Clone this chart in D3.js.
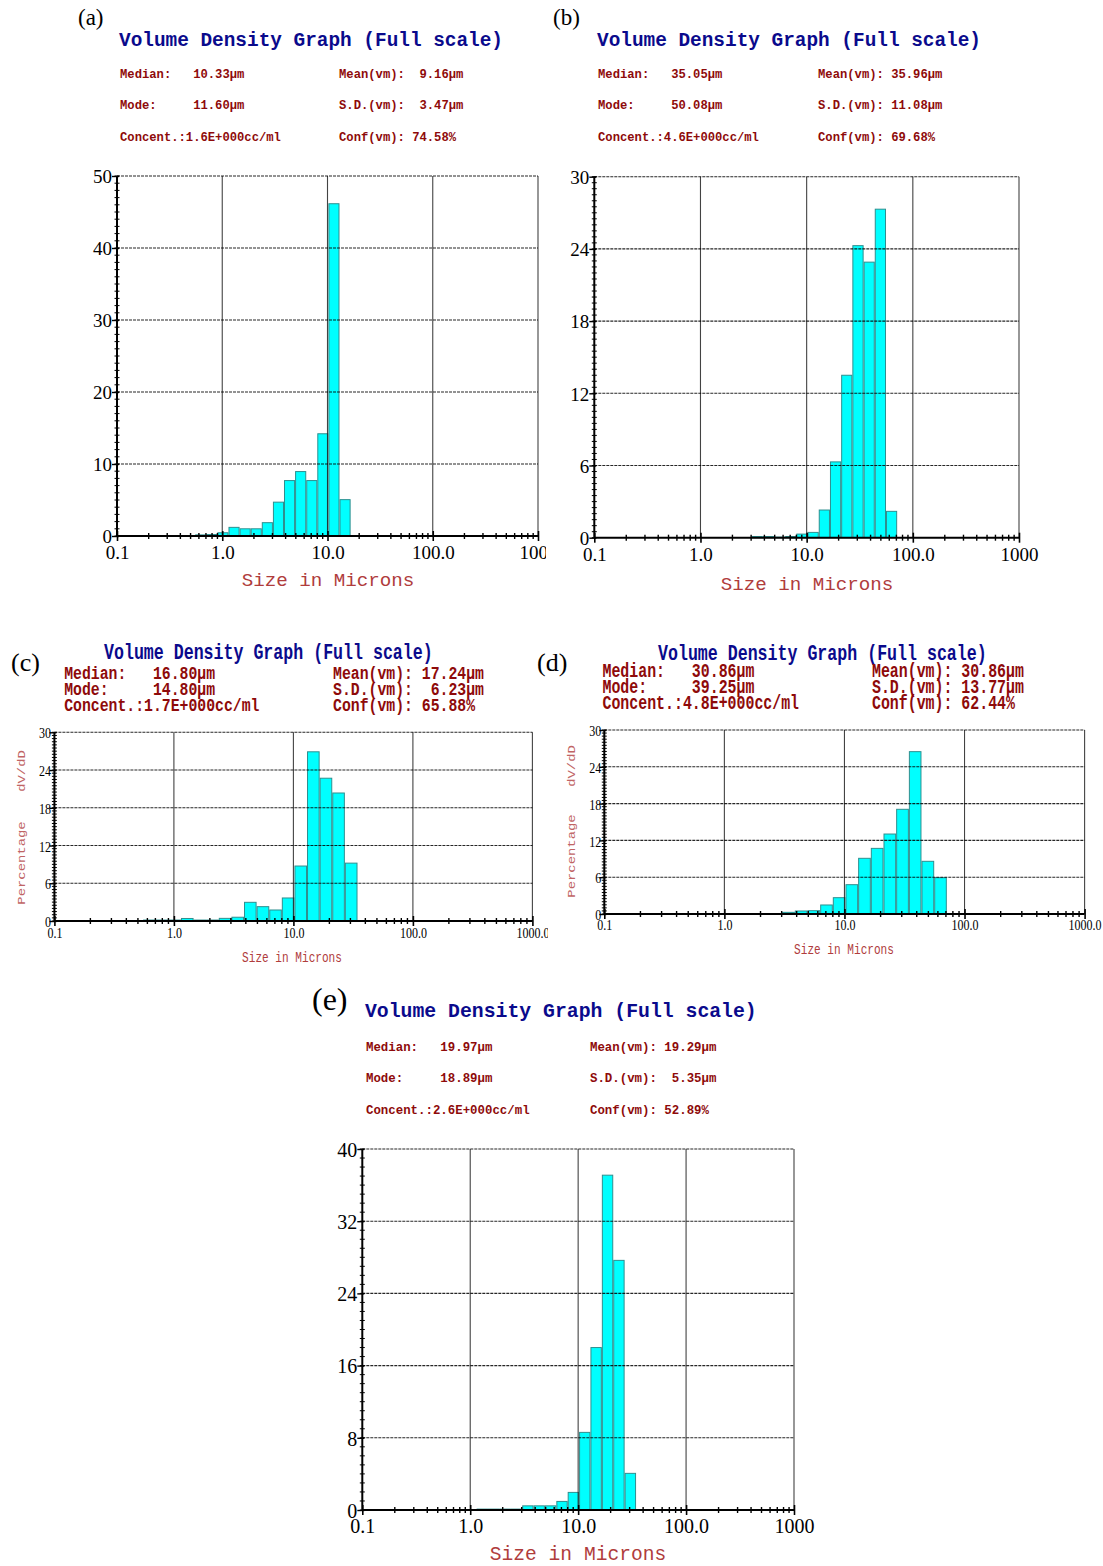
<!DOCTYPE html>
<html>
<head>
<meta charset="utf-8">
<script src="https://cdn.jsdelivr.net/npm/d3@7"></script>
<style>
  body { margin: 0; background: #fff; }
  svg { display: block; }
  text { white-space: pre; }
</style>
</head>
<body>
<svg id="fig" width="1103" height="1566" xml:space="preserve"></svg>
<script>
// Lower edges of the analyser's size channels in µm (the last entry closes the final channel)
const channelEdges = [0.101, 0.129, 0.164, 0.209, 0.267, 0.340, 0.434, 0.553, 0.705, 0.899,
  1.146, 1.461, 1.863, 2.375, 3.03, 3.86, 4.92, 6.28, 8.00, 10.2,
  13.0, 16.58, 21.14, 26.95, 34.4, 43.8, 55.9, 71.2];

// Volume percentage per channel for each sample
const volumeA = [0.03, 0.03, 0.03, 0.03, 0.03, 0.03, 0.03, 0.15, 0.2, 0.45,
  1.2, 1.0, 1.0, 1.85, 4.7, 7.7, 8.95, 7.7, 14.2, 46.15,
  5.05, 0, 0, 0, 0, 0, 0];
const volumeB = [0, 0, 0, 0, 0, 0, 0, 0, 0, 0,
  0, 0, 0, 0, 0.1, 0.1, 0.05, 0.1, 0.3, 0.44,
  2.3, 6.3, 13.5, 24.27, 22.9, 27.3, 2.19];
const volumeC = [0, 0, 0, 0, 0, 0, 0.08, 0.15, 0.15, 0.15,
  0.4, 0.15, 0.15, 0.42, 0.6, 2.97, 2.28, 1.75, 3.66, 8.74,
  26.9, 22.7, 20.35, 9.2, 0, 0, 0];
const volumeD = [0, 0, 0, 0, 0, 0, 0, 0, 0, 0,
  0, 0, 0, 0, 0.27, 0.49, 0.54, 1.47, 2.66, 4.78,
  9.08, 10.7, 13.04, 17.07, 26.47, 8.59, 5.92];
const volumeE = [0, 0, 0, 0, 0, 0, 0, 0, 0, 0,
  0.1, 0.1, 0.1, 0.1, 0.46, 0.46, 0.46, 0.95, 1.95, 8.6,
  18.0, 37.1, 27.66, 4.06, 0, 0, 0];

// Axis ticks
const sizeTicks = [0.1, 1, 10, 100, 1000];
const sizeLabelsShort = ["0.1", "1.0", "10.0", "100.0", "1000"];
const sizeLabelsLong = ["0.1", "1.0", "10.0", "100.0", "1000.0"];
const yTicksA = [0, 10, 20, 30, 40, 50];
const yTicksB = [0, 6, 12, 18, 24, 30];
const yTicksCD = [0, 6, 12, 18, 24, 30];
const yTicksE = [0, 8, 16, 24, 32, 40];

// Summary statistics printed above each graph: [left column, right column]
const statsA = [["Median:   10.33µm", "Mean(vm):  9.16µm"], ["Mode:     11.60µm", "S.D.(vm):  3.47µm"], ["Concent.:1.6E+000cc/ml", "Conf(vm): 74.58%"]];
const statsB = [["Median:   35.05µm", "Mean(vm): 35.96µm"], ["Mode:     50.08µm", "S.D.(vm): 11.08µm"], ["Concent.:4.6E+000cc/ml", "Conf(vm): 69.68%"]];
const statsC = [["Median:   16.80µm", "Mean(vm): 17.24µm"], ["Mode:     14.80µm", "S.D.(vm):  6.23µm"], ["Concent.:1.7E+000cc/ml", "Conf(vm): 65.88%"]];
const statsD = [["Median:   30.86µm", "Mean(vm): 30.86µm"], ["Mode:     39.25µm", "S.D.(vm): 13.77µm"], ["Concent.:4.8E+000cc/ml", "Conf(vm): 62.44%"]];
const statsE = [["Median:   19.97µm", "Mean(vm): 19.29µm"], ["Mode:     18.89µm", "S.D.(vm):  5.35µm"], ["Concent.:2.6E+000cc/ml", "Conf(vm): 52.89%"]];

const graphTitle = "Volume Density Graph (Full scale)";
const xAxisTitle = "Size in Microns";

// Page layout of each graph
const panels = [
  { tag: "(a)", values: volumeA, stats: statsA, yTicks: yTicksA, yMinor: 1, xLabels: sizeLabelsShort,
    box: { x0: 117, x1: 538, y0: 176, y1: 536 }, sy: 1,
    tagPos: [78, 25, 23], titlePos: [119, 46, 19.4], statX: [120, 339], statY: [78, 109, 141], statFs: 12.2,
    xTitlePos: [328, 586, 19.2], tickFs: 19, xLabOff: 23, yLabGap: 5, clipRight: 546 },
  { tag: "(b)", values: volumeB, stats: statsB, yTicks: yTicksB, yMinor: 0.5, xLabels: sizeLabelsShort,
    box: { x0: 594.3, x1: 1019, y0: 176.7, y1: 537.7 }, sy: 1,
    tagPos: [553, 25, 23], titlePos: [597, 46, 19.4], statX: [598, 818], statY: [78, 109, 141], statFs: 12.2,
    xTitlePos: [807, 590, 19.2], tickFs: 19, xLabOff: 23.3, yLabGap: 5 },
  { tag: "(c)", values: volumeC, stats: statsC, yTicks: yTicksCD, yMinor: 0.5, xLabels: sizeLabelsLong,
    box: { x0: 54.4, x1: 532.4, y0: 732.3, y1: 921 }, sy: 1.3,
    tagPos: [11, 671, 26], titlePos: [104, 659, 16.6], statX: [64.2, 333], statY: [679, 695, 711], statFs: 14.8,
    xTitlePos: [292, 962, 11.1], tickFs: 12, xLabOff: 17, yLabGap: 3.5, clipRight: 548,
    sideTitle: { x: 21, dv: 771, pct: 863, fs: 10.7 } },
  { tag: "(d)", values: volumeD, stats: statsD, yTicks: yTicksCD, yMinor: 0.5, xLabels: sizeLabelsLong,
    box: { x0: 604.3, x1: 1084.6, y0: 730, y1: 914 }, sy: 1.3,
    tagPos: [537, 671, 26], titlePos: [658, 660, 16.6], statX: [602.5, 872], statY: [676.7, 692.7, 708.7], statFs: 14.9,
    xTitlePos: [844, 954, 11.1], tickFs: 12, xLabOff: 16, yLabGap: 3, 
    sideTitle: { x: 571.4, dv: 766, pct: 856, fs: 10.7 } },
  { tag: "(e)", values: volumeE, stats: statsE, yTicks: yTicksE, yMinor: 1, xLabels: sizeLabelsShort,
    box: { x0: 362.3, x1: 794, y0: 1149, y1: 1510 }, sy: 1,
    tagPos: [312, 1010, 32], titlePos: [365, 1017, 19.8], statX: [366, 590], statY: [1051, 1081.6, 1113.8], statFs: 12.4,
    xTitlePos: [578, 1560, 19.6], tickFs: 20, xLabOff: 23, yLabGap: 5 }
];

const MONO = "'Liberation Mono', 'DejaVu Sans Mono', monospace";
const SERIF = "'Liberation Serif', 'DejaVu Serif', serif";
const svg = d3.select("#fig");
const defs = svg.append("defs");

// Text helper: optional vertical stretch about the baseline
function label(g, x, y, str, o) {
  const sy = o.sy || 1;
  return g.append("text")
    .attr("transform", `translate(${x},${y}) scale(1,${sy})`)
    .attr("font-family", o.family || MONO)
    .attr("font-size", o.fs)
    .attr("font-weight", o.weight || "normal")
    .attr("fill", o.fill || "#000")
    .attr("text-anchor", o.anchor || "start")
    .text(str);
}

panels.forEach((p, pi) => {
  const g = svg.append("g");
  const b = p.box;
  const x = d3.scaleLog().domain([0.1, 1000]).range([b.x0, b.x1]);
  const yMax = p.yTicks[p.yTicks.length - 1];
  const y = d3.scaleLinear().domain([0, yMax]).range([b.y1, b.y0]);

  // Panel letter
  label(g, p.tagPos[0], p.tagPos[1], p.tag, { fs: p.tagPos[2], family: SERIF });

  // Heading and statistics
  label(g, p.titlePos[0], p.titlePos[1], graphTitle, { fs: p.titlePos[2], weight: "bold", fill: "#0a0a8c", sy: p.sy });
  p.stats.forEach((row, ri) => {
    row.forEach((s, ci) => {
      label(g, p.statX[ci], p.statY[ri], s, { fs: p.statFs, weight: "bold", fill: "#8e0a0a", sy: p.sy });
    });
  });

  // Histogram bars, one per size channel
  const bars = p.values.map((v, i) => ({ lo: channelEdges[i], hi: channelEdges[i + 1], v }))
    .filter(d => d.v > 0);
  g.append("g").selectAll("rect").data(bars).join("rect")
    .attr("x", d => x(d.lo) + 0.5)
    .attr("width", d => x(d.hi) - x(d.lo) - 1)
    .attr("y", d => y(d.v))
    .attr("height", d => y(0) - y(d.v))
    .attr("fill", "#00ffff")
    .attr("stroke", "#2f8f8f")
    .attr("stroke-width", 1);

  // Grid: decades vertically, major ticks horizontally
  const grid = g.append("g").attr("fill", "none");
  grid.selectAll("line.v").data(sizeTicks.slice(1)).join("line")
    .attr("x1", d => x(d)).attr("x2", d => x(d))
    .attr("y1", b.y0).attr("y2", b.y1)
    .attr("stroke", "#222").attr("stroke-opacity", 0.85).attr("stroke-width", 1.1);
  grid.selectAll("line.h").data(p.yTicks.slice(1)).join("line")
    .attr("x1", b.x0).attr("x2", b.x1)
    .attr("y1", d => y(d)).attr("y2", d => y(d))
    .attr("stroke", "#000").attr("stroke-opacity", 0.85).attr("stroke-width", 1.1)
    .attr("stroke-dasharray", "3,1");

  // Bottom axis with log minor ticks crossing the axis line
  const clipId = "clip" + pi;
  let axG = g.append("g").attr("transform", `translate(0,${b.y1})`);
  if (p.clipRight) {
    defs.append("clipPath").attr("id", clipId).append("rect")
      .attr("x", 0).attr("y", -20).attr("width", p.clipRight).attr("height", 60);
    axG.attr("clip-path", `url(#${clipId})`);
  }
  const xAxis = d3.axisBottom(x).tickValues(sizeTicks)
    .tickFormat((d, i) => p.xLabels[i]).tickSize(5).tickPadding(0);
  axG.call(xAxis);
  axG.select(".domain").remove();
  axG.selectAll(".tick line").attr("y1", -5).attr("y2", 5).attr("stroke", "#000").attr("stroke-width", 1.6);
  axG.selectAll(".tick text").remove();
  axG.selectAll(".tick").each(function (d, i) {
    label(d3.select(this), 0, p.xLabOff, p.xLabels[i], { fs: p.tickFs, family: SERIF, anchor: "middle", sy: p.sy });
  });
  const minorX = x.ticks().filter(t => !sizeTicks.some(s => Math.abs(s - t) < 1e-9));
  axG.append("g").selectAll("line").data(minorX).join("line")
    .attr("x1", d => x(d)).attr("x2", d => x(d))
    .attr("y1", -3).attr("y2", 3)
    .attr("stroke", "#000").attr("stroke-width", 1.4);
  axG.append("line").attr("x1", b.x0).attr("x2", b.x1).attr("y1", 0).attr("y2", 0)
    .attr("stroke", "#000").attr("stroke-width", 2);

  // Left axis with dense minor ticks
  const yG = g.append("g").attr("transform", `translate(${b.x0},0)`);
  const yAxis = d3.axisLeft(y).tickValues(p.yTicks).tickSize(5).tickFormat("");
  yG.call(yAxis);
  yG.select(".domain").remove();
  yG.selectAll(".tick line").attr("x2", -5).attr("x1", 2).attr("stroke", "#000").attr("stroke-width", 1.4);
  yG.selectAll(".tick").each(function (d) {
    label(d3.select(this), -p.yLabGap, p.tickFs * 0.36 * p.sy, String(d),
      { fs: p.tickFs, family: SERIF, anchor: "end", sy: p.sy });
  });
  const minorY = d3.range(0, yMax + 1e-9, p.yMinor);
  yG.append("g").selectAll("line").data(minorY).join("line")
    .attr("x1", -2.5).attr("x2", 2.5)
    .attr("y1", d => y(d)).attr("y2", d => y(d))
    .attr("stroke", "#000").attr("stroke-width", 1);
  yG.append("line").attr("x1", 0).attr("x2", 0).attr("y1", b.y0).attr("y2", b.y1)
    .attr("stroke", "#000").attr("stroke-width", 2);

  // Axis titles
  label(g, p.xTitlePos[0], p.xTitlePos[1], xAxisTitle, { fs: p.xTitlePos[2], fill: "#b03c3c", anchor: "middle", sy: p.sy });
  if (p.sideTitle) {
    const st = p.sideTitle;
    [["dV/dD", st.dv], ["Percentage", st.pct]].forEach(([s, cy]) => {
      g.append("text")
        .attr("transform", `translate(${st.x},${cy}) rotate(-90) scale(${p.sy},1)`)
        .attr("dy", "0.35em")
        .attr("font-family", MONO).attr("font-size", st.fs)
        .attr("fill", "#c06464").attr("text-anchor", "middle")
        .text(s);
    });
  }
});
</script>
</body>
</html>
